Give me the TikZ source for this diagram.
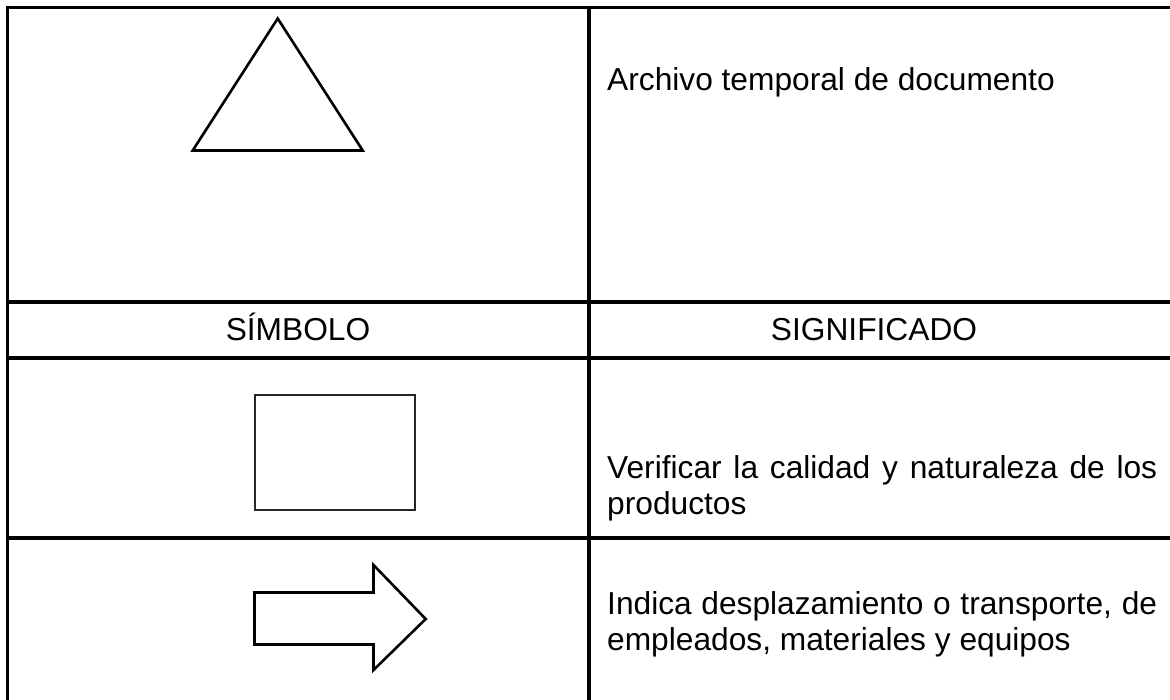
\documentclass[tikz,border=0pt]{standalone}
\usepackage{fontspec}
\setmainfont{Liberation Sans}
\begin{document}
\begin{tikzpicture}[x=1pt,y=-1pt,
  grid/.style={line width=3.2pt,line cap=rect},
  sym/.style={line width=2.6pt,line join=miter},
  thin/.style={line width=1.5pt,draw=black!85},
  txt/.style={inner sep=0pt,anchor=base west,font=\fontsize{31.7}{36.5}\selectfont},
  ctr/.style={inner sep=0pt,anchor=base,font=\fontsize{31.7}{36.5}\selectfont}]
\useasboundingbox (0,0) rectangle (1170,700);
% table grid
\draw[grid] (1175,7.5) -- (7.5,7.5) -- (7.5,705);
\draw[grid] (589,7.5) -- (589,705);
\draw[grid] (7.5,302) -- (1175,302);
\draw[grid] (7.5,358) -- (1175,358);
\draw[grid] (7.5,538) -- (1175,538);
% symbols
\draw[sym] (277.7,18.5) -- (362.7,150.5) -- (192.7,150.5) -- cycle;
\draw[thin] (255,395) rectangle (415,510);
\draw[sym] (254.5,592.5) -- (373.5,592.5) -- (373.5,565) -- (425.7,619) -- (373.5,670) -- (373.5,644.5) -- (254.5,644.5) -- cycle;
% texts
\node[txt] (t1) at (607,91) {Archivo temporal de documento};
\node[ctr] (h1) at (298,341) {SÍMBOLO};
\node[ctr] (h2) at (874,341) {SIGNIFICADO};
\node[txt] (t3a) at (607,478) {\makebox[550pt][s]{Verificar la calidad y naturaleza de los}};
\node[txt] (t3b) at (607,514) {productos};
\node[txt] (t4a) at (607,614) {\makebox[550pt][s]{Indica desplazamiento o transporte, de}};
\node[txt] (t4b) at (607,650) {empleados, materiales y equipos};
\end{tikzpicture}
\end{document}
